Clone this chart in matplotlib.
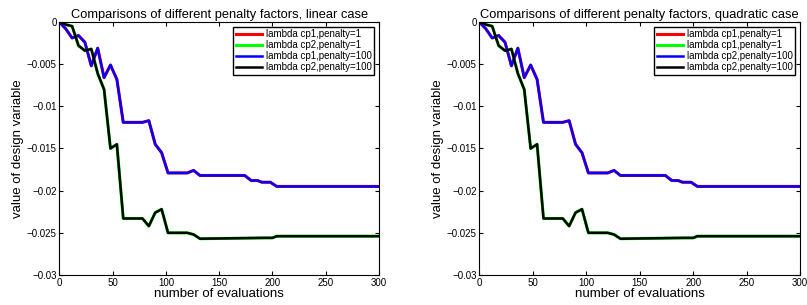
import matplotlib
matplotlib.use('Agg')
import matplotlib.pyplot as plt
from matplotlib.ticker import FixedLocator, FixedFormatter

plt.rcParams['font.family'] = ['Liberation Sans', 'DejaVu Sans']

# evaluation counts where the design variable changes
x_cp1 = [0, 6, 12, 18, 24, 30, 36, 42, 48, 54, 60, 78, 84, 90, 96, 102, 120, 126, 132,
         174, 180, 186, 190, 198, 204, 300]
y_cp1 = [0, -0.0008, -0.0019, -0.0016, -0.0024, -0.0052, -0.0031, -0.0066, -0.0051, -0.0068,
         -0.0119, -0.0119, -0.0117, -0.0145, -0.0155, -0.0179, -0.0179, -0.0176, -0.0182,
         -0.0182, -0.0188, -0.0188, -0.0190, -0.0190, -0.0195, -0.0195]

x_cp2 = [0, 6, 12, 18, 24, 30, 36, 42, 48, 54, 60, 78, 84, 90, 96, 102, 120, 126, 132,
         192, 200, 204, 300]
y_cp2 = [0, -0.0003, -0.0005, -0.0028, -0.0034, -0.0032, -0.0061, -0.0080, -0.0150, -0.0145,
         -0.0233, -0.0233, -0.0242, -0.0226, -0.0222, -0.0250, -0.0250, -0.0252, -0.0257,
         -0.0256, -0.0256, -0.0254, -0.0254]

titles = ['Comparisons of different penalty factors, linear case',
          'Comparisons of different penalty factors, quadratic case']
legend_sets = [
    ['lambda cp1,penalty=1', 'lambda cp2,penalty=1',
     'lambda cp1,penalty=100', 'lambda cp2,penalty=100'],
    ['lambda cp1,penalty=1', 'lambda cp1,penalty=1',
     'lambda cp2,penalty=100', 'lambda cp2,penalty=100'],
]
y_ticks = [0, -0.005, -0.01, -0.015, -0.02, -0.025, -0.03]
y_tick_labels = ['0', '\u22120.005', '\u22120.01', '\u22120.015', '\u22120.02', '\u22120.025', '\u22120.03']
x_ticks = [0, 50, 100, 150, 200, 250, 300]

fig = plt.figure(figsize=(8.07, 3.05), dpi=100)
positions = [[0.0735, 0.0984, 0.3962, 0.8295], [0.594, 0.0984, 0.3974, 0.8295]]

for pos, title, labels in zip(positions, titles, legend_sets):
    ax = fig.add_axes(pos)
    ax.plot(x_cp1, y_cp1, color='#ff0000', lw=2.2, label=labels[0])
    ax.plot(x_cp2, y_cp2, color='#00ff00', lw=2.2, label=labels[1])
    ax.plot(x_cp1, y_cp1, color='#0000ff', lw=1.8, label=labels[2])
    ax.plot(x_cp2, y_cp2, color='black', lw=1.8, label=labels[3])
    ax.set_xlim(0, 300)
    ax.set_ylim(-0.03, 0)
    ax.xaxis.set_major_locator(FixedLocator(x_ticks))
    ax.yaxis.set_major_locator(FixedLocator(y_ticks))
    ax.yaxis.set_major_formatter(FixedFormatter(y_tick_labels))
    ax.tick_params(direction='in', top=True, right=True, labelsize=7, length=3, pad=2)
    ax.set_title(title, fontsize=9.3, pad=3)
    ax.set_xlabel('number of evaluations', fontsize=9.5, labelpad=0)
    ax.set_ylabel('value of design variable', fontsize=9.5, labelpad=2)
    leg = ax.legend(loc='upper right', fontsize=7, fancybox=False, framealpha=1,
                    borderaxespad=0.5, handlelength=2.7, labelspacing=0.1,
                    borderpad=0.25, handletextpad=0.4)
    leg.get_frame().set_edgecolor('black')
    leg.get_frame().set_linewidth(1.0)

fig.savefig('out.png', dpi=100)
